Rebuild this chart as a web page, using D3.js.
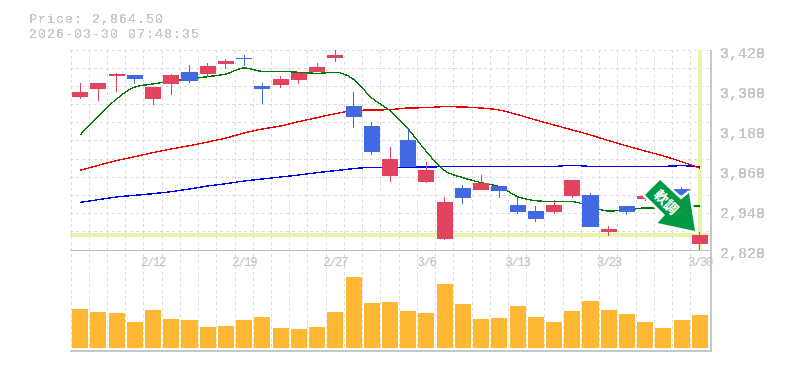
<!DOCTYPE html>
<html>
<head>
<meta charset="utf-8">
<script src="https://cdn.jsdelivr.net/npm/d3@7"></script>
<style>
body{margin:0;background:#fff}
svg{display:block}
text{font-family:"Liberation Mono","DejaVu Sans Mono",monospace;fill:#c8c8c8}
</style>
</head>
<body>
<svg id="chart" width="785" height="370"></svg>
<script>
var dates = ['2/5','2/6','2/9','2/10','2/12','2/13','2/16','2/17','2/18','2/19','2/20','2/24','2/25','2/26','2/27','3/2','3/3','3/4','3/5','3/6','3/9','3/10','3/11','3/12','3/13','3/16','3/17','3/18','3/19','3/23','3/24','3/25','3/26','3/27','3/30'];
var dateTicks = ['2/12','2/19','2/27','3/6','3/13','3/23','3/30'];
var priceTicks = [3420,3300,3180,3060,2940,2820];

var open  = [3279,3303,3342,3345,3273,3318,3354,3348,3378,3397,3312,3315,3330,3354,3396,3252,3192,3042,3150,3024,2853,3006,3000,3012,2955,2937,2934,2982,2985,2874,2952,2973,2970,3003,2838];
var high  = [3320,3321,3350,3345,3309,3348,3375,3381,3393,3405,3321,3342,3354,3381,3420,3294,3204,3129,3183,3084,2979,3015,3045,3012,2982,2952,2970,3030,2991,2892,2952,2982,2975,3009,2874];
var low   = [3273,3267,3294,3318,3255,3285,3321,3339,3363,3372,3258,3306,3318,3354,3384,3186,3105,3024,3070,3021,2850,2958,3000,2976,2928,2904,2928,2976,2889,2862,2925,2967,2940,2980,2820];
var close = [3294,3321,3349,3333,3309,3345,3327,3372,3387,3393,3303,3333,3351,3369,3405,3219,3114,3093,3070,3060,2964,2976,3021,2997,2934,2913,2955,3030,2889,2883,2934,2982,2950,2985,2864.5];

var maShort = [3165,3222,3273,3309,3318,3327,3333,3340,3348,3366,3356,3356,3353,3350,3353,3332,3276,3238,3183,3115,3058,3037,3022,3010,2980,2968,2965,2965,2950,2937,2940,2946,2946,2952,2952];
var maMid   = [3059,3074,3088,3100,3112,3123,3133,3144,3156,3171,3183,3192,3205,3217,3229,3238,3240,3241,3246,3247,3250,3249,3246,3240,3226,3210,3195,3180,3165,3148,3132,3117,3102,3085,3066];
var maLong  = [2963,2971,2979,2984,2989,2995,3003,3012,3019,3027,3033,3039,3045,3052,3058,3064,3068,3067,3068,3069,3070,3071,3071,3071,3071,3071,3071,3074,3071,3071,3071,3071,3071,3073,3069];

var volume = [39,36,35,26,38,29,28,21,22,28,31,20,19,21,36,71,45,46,37,35,64,44,29,30,42,31,26,37,47,38,34,26,20,28,33];

var lastPrice = 2864.5;
var priceLabel = 'Price: 2,864.50';
var timeLabel = '2026-03-30 07:48:35';
var badgeLabel = '軟調';

var svg = d3.select('#chart');
var left = 71, right = 709, top_ = 50, mid = 250, bottom = 350, volBase = 348;

var defs = svg.append('defs');
// the original text is bitmap-like, no antialiasing
defs.append('filter').attr('id','hard').attr('x','-5%').attr('y','-20%').attr('width','110%').attr('height','140%')
	.append('feComponentTransfer').append('feFuncA').attr('type','discrete').attr('tableValues','0 1 1 1');

var xscale = d3.scaleBand().domain(dates).range([left,right]).paddingInner(0.12).paddingOuter(0.06);
var yscale = d3.scaleLinear().domain([2820,3420]).range([mid,top_]);
var vscale = d3.scaleLinear().domain([0,100]).range([volBase,volBase-100]);
var cx = d => xscale(d) + xscale.bandwidth()/2;

// grid
var grid = svg.append('g').attr('stroke','#dcdcdc').attr('stroke-dasharray','3,3').attr('shape-rendering','crispEdges');
d3.range(dates.length).forEach(i => {
	var gx = xscale(dates[i]) - (xscale.step()-xscale.bandwidth())/2;
	grid.append('line').attr('x1',gx).attr('x2',gx).attr('y1',top_).attr('y2',bottom);
});
d3.range(11).forEach(i => {
	var gy = top_ + i*(mid-top_)/11;
	grid.append('line').attr('x1',left-1).attr('x2',right+1).attr('y1',gy).attr('y2',gy);
});

// last price crosshair
var hl = svg.append('g').attr('stroke','#e6f5a8').attr('stroke-width',3.5).attr('shape-rendering','crispEdges');
hl.append('line').attr('x1',left-1).attr('x2',right+1).attr('y1',yscale(lastPrice)).attr('y2',yscale(lastPrice));
hl.append('line').attr('x1',cx(dates[34])).attr('x2',cx(dates[34])).attr('y1',top_).attr('y2',mid);

// moving averages
var line = d3.line().curve(d3.curveMonotoneX).x((d,i) => cx(dates[i])).y(d => yscale(d));
[[maLong,'#0000ee'],[maMid,'#ee0000'],[maShort,'#007a00']].forEach(s => {
	svg.append('path').attr('d',line(s[0])).attr('fill','none').attr('stroke',s[1]).attr('stroke-width',1.4).attr('shape-rendering','crispEdges');
});

// candles
var upColor = '#e2445f', downColor = '#4169e1';
var candles = svg.append('g').attr('shape-rendering','crispEdges').selectAll('g').data(dates).enter().append('g')
	.attr('fill',(d,i) => close[i] >= open[i] ? upColor : downColor)
	.attr('stroke',(d,i) => close[i] >= open[i] ? upColor : downColor);
candles.append('line').attr('x1',cx).attr('x2',cx).attr('y1',(d,i) => yscale(high[i])).attr('y2',(d,i) => yscale(low[i]));
candles.append('rect').attr('stroke','none').attr('x',d => xscale(d)).attr('width',xscale.bandwidth())
	.attr('y',(d,i) => yscale(Math.max(open[i],close[i])))
	.attr('height',(d,i) => Math.max(1,Math.abs(yscale(open[i])-yscale(close[i]))));

// volume
svg.append('g').attr('shape-rendering','crispEdges').selectAll('rect').data(dates).enter().append('rect')
	.attr('fill','#ffb833').attr('x',d => xscale(d)).attr('width',xscale.bandwidth())
	.attr('y',(d,i) => vscale(volume[i])).attr('height',(d,i) => volBase-vscale(volume[i]));

// frame
var frame = svg.append('g').attr('stroke','#c8c8c8').attr('stroke-width',2).attr('shape-rendering','crispEdges');
frame.append('line').attr('x1',left-1).attr('x2',right+3).attr('y1',bottom+0.5).attr('y2',bottom+0.5);
frame.append('line').attr('x1',right+2).attr('x2',right+2).attr('y1',top_).attr('y2',bottom);
svg.append('line').attr('stroke','#bdbdbd').attr('shape-rendering','crispEdges')
	.attr('x1',left-1).attr('x2',right+1).attr('y1',mid+0.5).attr('y2',mid+0.5);

// axes
var yaxis = svg.append('g').attr('transform',`translate(${right+1},3)`)
	.call(d3.axisRight(yscale).tickValues(priceTicks).tickFormat(d3.format(',')).tickSize(0).tickPadding(10));
yaxis.select('.domain').remove();
yaxis.attr('filter','url(#hard)').selectAll('text').attr('font-size',15).attr('font-family',null);

var xaxis = svg.append('g').attr('transform',`translate(0,${mid})`)
	.call(d3.axisBottom(xscale).tickValues(dateTicks).tickSize(0).tickPadding(7));
xaxis.select('.domain').remove();
xaxis.selectAll('text').attr('font-size',12).attr('letter-spacing','-1.2px').attr('font-family',null).style('fill','#bdbdbd');

// header
var head = svg.append('g').attr('filter','url(#hard)').attr('font-size',13.2).attr('letter-spacing','1.08px');
head.append('text').attr('x',29).attr('y',23).text(priceLabel);
head.append('text').attr('x',29).attr('y',38).text(timeLabel);

// trend badge, white halo under the arrow like the pasted image
var arrow = [[660,180],[645,195],[665,215],[657.5,223],[695,231],[689,193],[681,199.5]];
svg.append('polygon').attr('points',arrow.join(' ')).attr('fill','#fff').attr('stroke','#fff').attr('stroke-width',5).attr('stroke-linejoin','round');
svg.append('polygon').attr('points',arrow.join(' ')).attr('fill','#009944');
svg.append('text').attr('transform','translate(666.8,201.5) rotate(45)')
	.attr('text-anchor','middle').attr('dominant-baseline','central')
	.attr('font-size',14).attr('font-weight','bold')
	.style('font-family','"Noto Sans CJK JP"').style('fill','#fff').text(badgeLabel);
</script>
</body>
</html>
